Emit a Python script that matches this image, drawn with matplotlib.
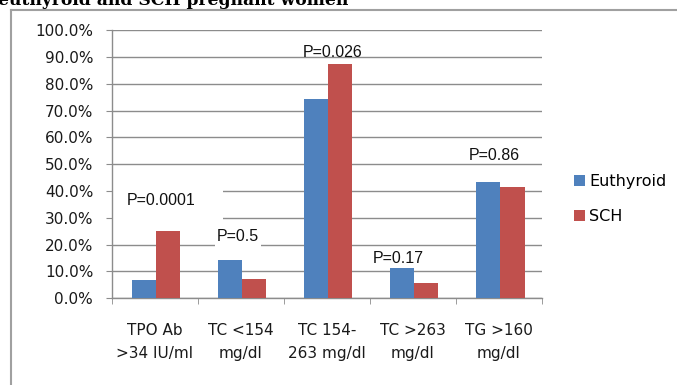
import numpy as np
import matplotlib
matplotlib.use('Agg')
import matplotlib.pyplot as plt
from matplotlib.patches import Rectangle
from matplotlib.lines import Line2D

# --- DATA ---
categories = ["TPO Ab\n>34 IU/ml", "TC <154\nmg/dl", "TC 154-\n263 mg/dl",
              "TC >263\nmg/dl", "TG >160\nmg/dl"]
euthyroid = [6.8, 14.3, 74.2, 11.2, 43.2]
sch = [25.2, 7.2, 87.2, 5.6, 41.5]
p_values = ["P=0.0001", "P=0.5", "P=0.026", "P=0.17", "P=0.86"]

# where the p-value text boxes sit (x in category units, y in %)
p_pos = [(0.08, 36.6), (0.97, 23.0), (2.07, 91.5), (2.83, 15.0), (3.95, 53.4)]
# white text-box backgrounds that hide gridlines (x0, y0, w, h)
p_boxes = [(-0.5, 24, 1.29, 18), (0.70, 18, 0.54, 8)]

BLUE = "#4F81BD"
RED = "#C0504D"
GRID = "#8C8C8C"

fig = plt.figure(figsize=(6.77, 3.85), dpi=100)
ax = fig.add_axes([0.165, 0.2252, 0.6356, 0.6968])

x = np.arange(len(categories))
w = 0.282
b1 = ax.bar(x - w / 2 + 0.015, euthyroid, w, color=BLUE, zorder=3, label="Euthyroid")
b2 = ax.bar(x + w / 2 + 0.015, sch, w, color=RED, zorder=3, label="SCH")

ax.set_xlim(-0.5, 4.5)
ax.set_ylim(0, 100)
ax.set_yticks(np.arange(0, 101, 10))
ax.set_yticklabels([f"{v:.1f}%" for v in range(0, 101, 10)])
ax.yaxis.grid(True, color=GRID, linewidth=1.0, zorder=0)
ax.set_axisbelow(True)

ax.set_xticks(x)
ax.set_xticklabels(categories, linespacing=1.65)
ax.set_xticks(np.arange(-0.5, 5, 1), minor=True)
ax.tick_params(axis='x', which='major', length=0, pad=18, labelsize=11,
               labelcolor='#1a1a1a')
ax.tick_params(axis='x', which='minor', length=4.3, color=GRID, direction='out')
ax.tick_params(axis='y', length=4.3, color=GRID, pad=9, labelsize=11,
               labelcolor='#1a1a1a')

for s in ['top', 'right']:
    ax.spines[s].set_visible(False)
for s in ['left', 'bottom']:
    ax.spines[s].set_color(GRID)
    ax.spines[s].set_linewidth(1.0)

for (bx, by, bw, bh) in p_boxes:
    ax.add_patch(Rectangle((bx, by), bw, bh, facecolor='white',
                           edgecolor='none', zorder=1))

for txt, (px, py) in zip(p_values, p_pos):
    ax.text(px, py, txt, ha='center', va='center', fontsize=11.5,
            family='Liberation Sans', color='#111111', zorder=4)

fig.legend(handles=[b1, b2], loc='upper left',
           bbox_to_anchor=(566 / 677, 1 - 166 / 385), frameon=False,
           fontsize=11.5, handlelength=0.7, handleheight=0.7,
           handletextpad=0.25, labelspacing=1.25, borderpad=0)

# outer chart frame (left and top edges visible)
fig.add_artist(Line2D([11 / 677, 11 / 677], [0, 1 - 10 / 385],
                      color='#A0A0A0', linewidth=1.5))
fig.add_artist(Line2D([11 / 677, 1], [1 - 10 / 385, 1 - 10 / 385],
                      color='#A0A0A0', linewidth=1.5))

# cropped caption above the chart
fig.text(-2 / 677, 1 - 5 / 385, "euthyroid and SCH pregnant women",
         ha='left', va='baseline', fontsize=12.3, fontweight='bold',
         family='DejaVu Serif', color='black')

fig.savefig('out.png', dpi=100)
